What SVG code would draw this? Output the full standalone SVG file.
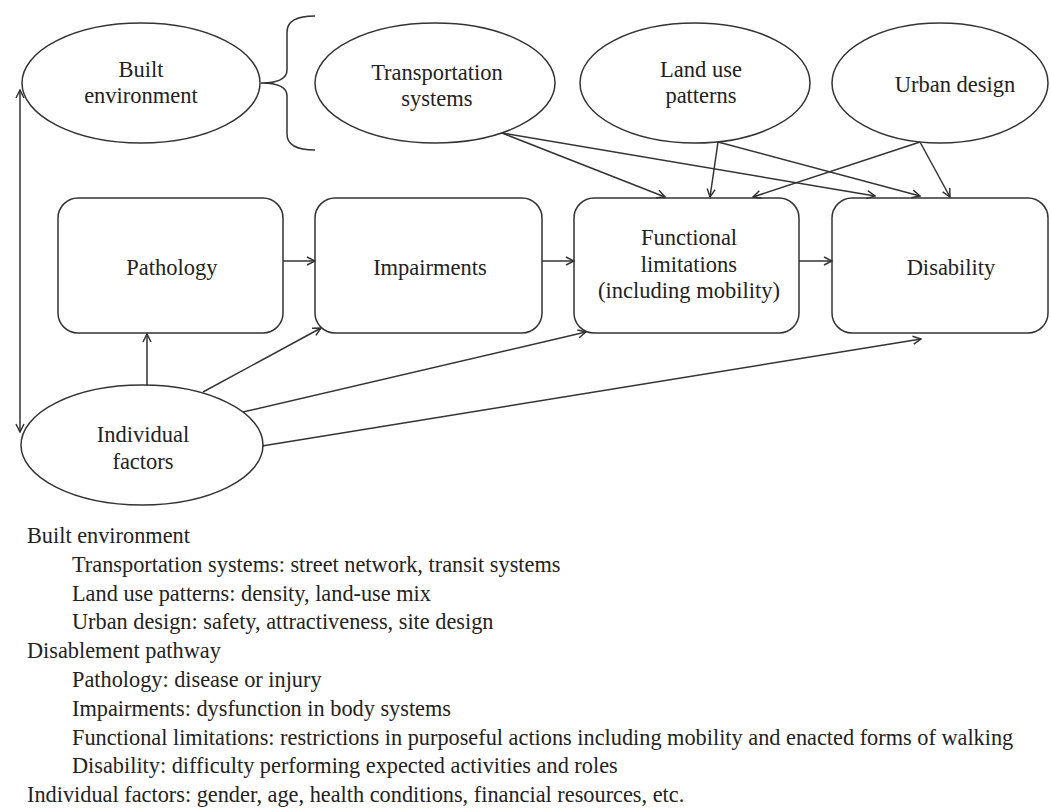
<svg xmlns="http://www.w3.org/2000/svg" width="1051" height="810" viewBox="0 0 1051 810">
<style>
.shape{fill:#fff;stroke:#333;stroke-width:1.5}
.lbl{font-family:"Liberation Serif","Times New Roman",serif;font-size:22.5px;fill:#222;text-anchor:middle}
.leg{font-family:"Liberation Serif","Times New Roman",serif;font-size:22.3px;fill:#222}
.conn path{fill:none;stroke:#333;stroke-width:1.5}
</style>
<defs>
<marker id="arr" viewBox="0 0 10 10" refX="9" refY="5" markerWidth="10" markerHeight="10" markerUnits="userSpaceOnUse" orient="auto-start-reverse">
<path d="M1,1 L9,5 L1,9" fill="none" stroke="#333" stroke-width="1.5"/>
</marker>
</defs>
<rect width="1051" height="810" fill="#fff"/>

<g id="built-environment">
<ellipse class="shape" cx="141" cy="83" rx="119" ry="60"/>
<text class="lbl" x="141" y="77">Built</text>
<text class="lbl" x="141" y="103">environment</text>
</g>
<g id="brace">
<path d="M315,16 Q287,16 287,32 L287,70 Q287,83 261,83 Q287,83 287,96 L287,134 Q287,150 315,150" fill="none" stroke="#333" stroke-width="1.5"/>
</g>
<g id="transportation-systems">
<ellipse class="shape" cx="435" cy="83" rx="120" ry="60"/>
<text class="lbl" x="437" y="80">Transportation</text>
<text class="lbl" x="437" y="106">systems</text>
</g>
<g id="land-use-patterns">
<ellipse class="shape" cx="695" cy="83" rx="115" ry="60"/>
<text class="lbl" x="701" y="77">Land use</text>
<text class="lbl" x="701" y="103">patterns</text>
</g>
<g id="urban-design">
<ellipse class="shape" cx="940" cy="83" rx="108" ry="60"/>
<text class="lbl" x="955" y="92">Urban design</text>
</g>

<g id="pathology">
<rect class="shape" x="58" y="198" width="225" height="135" rx="20"/>
<text class="lbl" x="172" y="275">Pathology</text>
</g>
<g id="impairments">
<rect class="shape" x="315" y="198" width="227" height="135" rx="20"/>
<text class="lbl" x="430" y="275">Impairments</text>
</g>
<g id="functional-limitations">
<rect class="shape" x="574" y="198" width="225" height="135" rx="20"/>
<text class="lbl" x="689" y="245">Functional</text>
<text class="lbl" x="689" y="272">limitations</text>
<text class="lbl" x="689" y="298">(including mobility)</text>
</g>
<g id="disability">
<rect class="shape" x="832" y="198" width="216" height="135" rx="20"/>
<text class="lbl" x="951" y="275">Disability</text>
</g>

<g id="individual-factors">
<ellipse class="shape" cx="142" cy="445" rx="121" ry="60"/>
<text class="lbl" x="143" y="442">Individual</text>
<text class="lbl" x="143" y="469">factors</text>
</g>

<g id="connectors" class="conn">
<path d="M20,432 L20,90" marker-start="url(#arr)" marker-end="url(#arr)"/>
<path d="M283,261 L315,261" marker-end="url(#arr)"/>
<path d="M542,261 L574,261" marker-end="url(#arr)"/>
<path d="M799,261 L832,261" marker-end="url(#arr)"/>
<path d="M147,385 L147,334" marker-end="url(#arr)"/>
<path d="M203,392 L321,328" marker-end="url(#arr)"/>
<path d="M243,412 L586,332" marker-end="url(#arr)"/>
<path d="M262,446 L921,339" marker-end="url(#arr)"/>
<path d="M502,133 L665,197" marker-end="url(#arr)"/>
<path d="M502,133 L875,196" marker-end="url(#arr)"/>
<path d="M718,142 L710,197" marker-end="url(#arr)"/>
<path d="M718,142 L920,196" marker-end="url(#arr)"/>
<path d="M920,142 L753,197" marker-end="url(#arr)"/>
<path d="M920,142 L950,197" marker-end="url(#arr)"/>
</g>

<g id="legend">
<text class="leg" x="27" y="543">Built environment</text>
<text class="leg" x="72" y="572">Transportation systems: street network, transit systems</text>
<text class="leg" x="72" y="601">Land use patterns: density, land-use mix</text>
<text class="leg" x="72" y="629">Urban design: safety, attractiveness, site design</text>
<text class="leg" x="27" y="658">Disablement pathway</text>
<text class="leg" x="72" y="687">Pathology: disease or injury</text>
<text class="leg" x="72" y="716">Impairments: dysfunction in body systems</text>
<text class="leg" x="72" y="745">Functional limitations: restrictions in purposeful actions including mobility and enacted forms of walking</text>
<text class="leg" x="72" y="773">Disability: difficulty performing expected activities and roles</text>
<text class="leg" x="27" y="802">Individual factors: gender, age, health conditions, financial resources, etc.</text>
</g>
</svg>
